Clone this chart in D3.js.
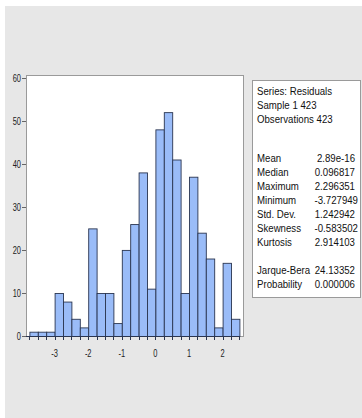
<!DOCTYPE html>
<html>
<head>
<meta charset="utf-8">
<script src="https://cdn.jsdelivr.net/npm/d3@7/dist/d3.min.js"></script>
<style>
  html, body { margin: 0; padding: 0; background: #ffffff; }
  svg { display: block; }
  .ax text { font-family: "Liberation Sans", Arial, sans-serif; font-size: 11px; fill: #222; }
  .stats text { font-family: "Liberation Sans", Arial, sans-serif; font-size: 11.5px; fill: #111; }
</style>
</head>
<body>
<script>
// Histogram of residuals: bin counts, 0.25 wide, starting at -3.75
const binStart = -3.75;
const binWidth = 0.25;
const counts = [1, 1, 1, 10, 8, 4, 2, 25, 10, 10, 3, 20, 26, 38, 11, 48, 52, 41, 10, 37, 24, 18, 2, 17, 4];

const xTicks = [-3, -2, -1, 0, 1, 2];
const yTicks = [0, 10, 20, 30, 40, 50, 60];

// Descriptive statistics panel
const headerLines = ["Series: Residuals", "Sample 1 423", "Observations 423"];
const statNames = ["Mean", "Median", "Maximum", "Minimum", "Std. Dev.", "Skewness", "Kurtosis"];
const statValues = ["2.89e-16", "0.096817", "2.296351", "-3.727949", "1.242942", "-0.583502", "2.914103"];
const testNames = ["Jarque-Bera", "Probability"];
const testValues = ["24.13352", "0.000006"];

const W = 362, H = 418;
const svg = d3.select("body").append("svg").attr("width", W).attr("height", H);

// condensed text: place with a transform and squeeze horizontally
function narrowText(g, px, py, str, sx, anchor) {
  return g.append("text")
    .attr("transform", `translate(${px},${py}) scale(${sx},1)`)
    .attr("text-anchor", anchor || "start")
    .text(str);
}

// window background
svg.append("rect").attr("x", 5).attr("y", 6).attr("width", W - 5).attr("height", H - 6).attr("fill", "#e7e7e7");

const frame = { left: 26, right: 243, top: 75, bottom: 336 };
const x = d3.scaleLinear().domain([-3.75, 2.5]).range([29.4, 239.4]);
const y = d3.scaleLinear().domain([0, 60]).range([336, 77.7]);

// plot area
svg.append("rect")
  .attr("x", frame.left + 0.5).attr("y", frame.top + 0.5)
  .attr("width", frame.right - frame.left).attr("height", frame.bottom - frame.top)
  .attr("fill", "#ffffff").attr("stroke", "#9a9a9a").attr("stroke-width", 1);

// bars
const bins = counts.map((c, i) => ({ x0: binStart + i * binWidth, x1: binStart + (i + 1) * binWidth, n: c }));
svg.append("g").selectAll("rect").data(bins).join("rect")
  .attr("x", d => x(d.x0) + 0.5)
  .attr("y", d => y(d.n) + 0.5)
  .attr("width", d => x(d.x1) - x(d.x0))
  .attr("height", d => y(0) - y(d.n))
  .attr("fill", "#9abcf8")
  .attr("stroke", "#2a3550")
  .attr("stroke-width", 0.9);

// x axis: minor ticks at every bin edge, labelled ticks at integers
const edges = d3.range(counts.length + 1).map(i => binStart + i * binWidth);
const gx = svg.append("g").attr("class", "ax");
gx.append("line").attr("x1", frame.left - 4).attr("x2", frame.right - 3)
  .attr("y1", y(0) + 0.5).attr("y2", y(0) + 0.5).attr("stroke", "#2a3550").attr("stroke-width", 1);
gx.selectAll("line.minor").data(edges).join("line").attr("class", "minor")
  .attr("x1", d => Math.round(x(d)) + 0.5).attr("x2", d => Math.round(x(d)) + 0.5)
  .attr("y1", y(0)).attr("y2", y(0) + 4)
  .attr("stroke", "#2a3550").attr("stroke-width", 1);
xTicks.forEach(t => narrowText(gx, x(t), y(0) + 21, t, 0.68, "middle"));

// y axis
const gy = svg.append("g").attr("class", "ax");
gy.selectAll("line").data(yTicks).join("line")
  .attr("x1", frame.left - 4).attr("x2", frame.left)
  .attr("y1", d => Math.round(y(d)) + 0.5).attr("y2", d => Math.round(y(d)) + 0.5)
  .attr("stroke", "#666").attr("stroke-width", 1);
yTicks.forEach(t => narrowText(gy, frame.left - 5, y(t) + 4, t, 0.68, "end"));

// statistics box
const box = { left: 252, right: 360, top: 80, bottom: 297 };
svg.append("rect")
  .attr("x", box.left + 0.5).attr("y", box.top + 0.5)
  .attr("width", box.right - box.left).attr("height", box.bottom - box.top)
  .attr("fill", "#ffffff").attr("stroke", "#9a9a9a");

const st = svg.append("g").attr("class", "stats");
const labelX = 257, valueX = 355, sx = 0.84;
const rowStep = 14;
headerLines.forEach((t, i) => narrowText(st, labelX, 95 + i * rowStep, t, sx));
statNames.forEach((t, i) => {
  const yy = 162 + i * rowStep;
  narrowText(st, labelX, yy, t, sx);
  narrowText(st, valueX + (statValues[i].startsWith("-") ? 3 : 0), yy, statValues[i], sx, "end");
});
testNames.forEach((t, i) => {
  const yy = 274 + i * rowStep;
  narrowText(st, labelX, yy, t, sx);
  narrowText(st, valueX, yy, testValues[i], sx, "end");
});
</script>
</body>
</html>
